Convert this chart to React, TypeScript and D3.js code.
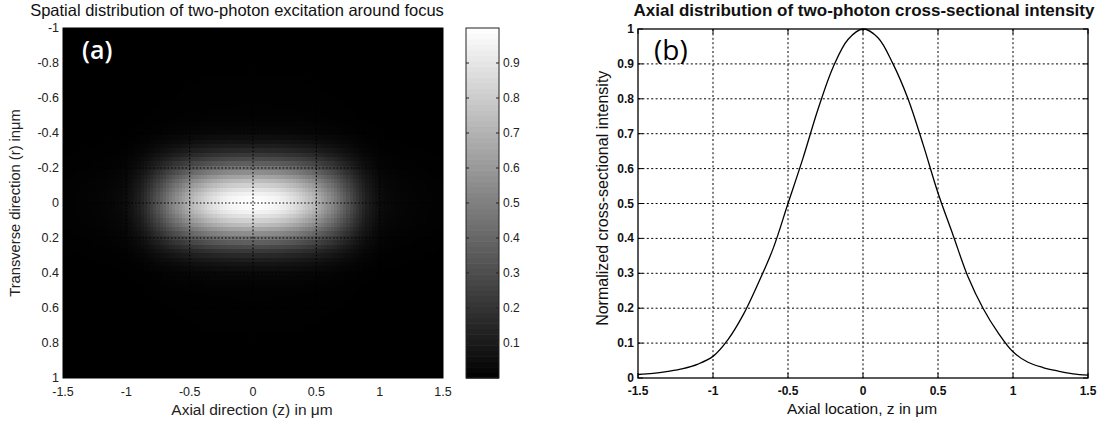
import React from 'react';
import * as d3 from 'd3';

// ---------- Data ----------
// (a) heat map, axial profile |z| = 0, 0.025, ..., 1.5 µm (symmetric about z = 0)
const heatAxialHalf = [
  1.0, 0.999, 0.998, 0.995, 0.99,
  0.985, 0.978, 0.97, 0.96,
  0.948, 0.935, 0.918, 0.90,
  0.88, 0.86, 0.835, 0.81,
  0.785, 0.76, 0.73, 0.70,
  0.665, 0.63, 0.595, 0.56,
  0.525, 0.49, 0.45, 0.41,
  0.37, 0.33, 0.29, 0.25,
  0.215, 0.18, 0.15, 0.12,
  0.10, 0.08, 0.064, 0.05,
  0.042, 0.035, 0.031, 0.028,
  0.025, 0.023, 0.021, 0.019,
  0.0175, 0.016, 0.015, 0.014,
  0.013, 0.012, 0.011, 0.010,
  0.0095, 0.009, 0.0085, 0.008,
];
// transverse profile |r| = 0, 0.025, ..., 1 µm (symmetric about r = 0)
const heatTransverseHalf = [
  1.0, 0.985, 0.95, 0.89, 0.82,
  0.74, 0.65, 0.555, 0.46,
  0.37, 0.29, 0.22, 0.16,
  0.115, 0.08, 0.055, 0.037,
  0.025, 0.017, 0.012, 0.009,
  0.007, 0.006, 0.005, 0.004,
  0.0035, 0.003, 0.003, 0.0025,
  0.0025, 0.002, 0.002, 0.002,
  0.0015, 0.0015, 0.0015, 0.001,
  0.001, 0.001, 0.001, 0.001,
];
const heatXTicks = [-1.5, -1, -0.5, 0, 0.5, 1, 1.5];
const heatXLabels = ['-1.5', '-1', '-0.5', '0', '0.5', '1', '1.5'];
const heatYTicks = [-1, -0.8, -0.6, -0.4, -0.2, 0, 0.2, 0.4, 0.6, 0.8, 1];
const heatYLabels = ['-1', '-0.8', '-0.6', '-0.4', '-0.2', '0', '0.2', '0.4', '0.6', '0.8', '1'];
const colorbarTicks = [0.1, 0.2, 0.3, 0.4, 0.5, 0.6, 0.7, 0.8, 0.9];
const colorbarLabels = ['0.1', '0.2', '0.3', '0.4', '0.5', '0.6', '0.7', '0.8', '0.9'];

// (b) axial profile, every 0.1 µm from -1.5 to 1.5
const profileZ = d3.range(-15, 16).map((i) => i / 10);
const profileI = [
  0.010, 0.013, 0.019, 0.027, 0.040, 0.062, 0.11, 0.18, 0.27, 0.37,
  0.50, 0.63, 0.77, 0.89, 0.97, 1.0, 0.975, 0.90, 0.80, 0.67,
  0.53, 0.41, 0.29, 0.20, 0.13, 0.075, 0.045, 0.030, 0.020, 0.012, 0.008,
];
const profileXTicks = [-1.5, -1, -0.5, 0, 0.5, 1, 1.5];
const profileXLabels = ['-1.5', '-1', '-0.5', '0', '0.5', '1', '1.5'];
const profileYTicks = [0, 0.1, 0.2, 0.3, 0.4, 0.5, 0.6, 0.7, 0.8, 0.9, 1];
const profileYLabels = ['0', '0.1', '0.2', '0.3', '0.4', '0.5', '0.6', '0.7', '0.8', '0.9', '1'];

const FONT = '"Liberation Sans", Arial, Helvetica, sans-serif';

const STEP = 0.025;
const heatAxial = [...heatAxialHalf.slice(1).reverse(), ...heatAxialHalf];
const heatZ = heatAxial.map((_, i) => (i - (heatAxialHalf.length - 1)) * STEP);
const heatTransverse = [...heatTransverseHalf.slice(1).reverse(), ...heatTransverseHalf];
const heatR = heatTransverse.map((_, i) => (i - (heatTransverseHalf.length - 1)) * STEP);

export default function App() {
  // ---------- Panel (a) ----------
  const hx = d3.scaleLinear().domain([-1.5, 1.5]).range([63, 443]);
  const hy = d3.scaleLinear().domain([-1, 1]).range([28, 378]);
  const gray = d3.scaleLinear<string>().domain([0, 1]).range(['#000000', '#ffffff']).clamp(true);
  const cellW = hx(STEP) - hx(0);
  const cellH = hy(STEP) - hy(0);

  const cells: JSX.Element[] = [];
  heatZ.forEach((z, i) => {
    heatR.forEach((r, j) => {
      const v = heatAxial[i] * heatTransverse[j];
      if (v < 0.002) return;
      cells.push(
        <rect
          key={`${i}-${j}`}
          x={hx(z) - cellW / 2}
          y={hy(r) - cellH / 2}
          width={cellW + 0.5}
          height={cellH + 0.5}
          fill={gray(v)}
        />
      );
    });
  });

  // colorbar
  const cbX0 = 466;
  const cbX1 = 499;
  const cy = d3.scaleLinear().domain([0, 1]).range([378, 28]);
  const cbSteps = d3.range(64);

  // ---------- Panel (b) ----------
  const px = d3.scaleLinear().domain([-1.5, 1.5]).range([638, 1088]);
  const py = d3.scaleLinear().domain([0, 1]).range([378, 29]);
  const line = d3
    .line<number>()
    .x((_, i) => px(profileZ[i]))
    .y((d) => py(d))
    .curve(d3.curveCatmullRom);

  return (
    <svg
      width={1099}
      height={427}
      style={{ position: 'absolute', left: 0, top: 0, background: '#fff' }}
      fontFamily={FONT}
    >
      <defs>
        <clipPath id="clipHeat">
          <rect x={63} y={28} width={380} height={350} />
        </clipPath>
      </defs>
      <rect x={0} y={0} width={1099} height={427} fill="#fff" />

      {/* ---------- Panel (a) ---------- */}
      <text x={237} y={16} textAnchor="middle" fontSize={16.5} fill="#111">
        Spatial distribution of two-photon excitation around focus
      </text>
      <rect x={63} y={28} width={380} height={350} fill="#000" />
      <g clipPath="url(#clipHeat)" shapeRendering="crispEdges">{cells}</g>
      {/* dotted grid */}
      <g stroke="#000" strokeWidth={1.1} strokeDasharray="1.6,2">
        {heatXTicks.slice(1, -1).map((t) => (
          <line key={`gx${t}`} x1={hx(t)} x2={hx(t)} y1={28} y2={378} />
        ))}
        {heatYTicks.slice(1, -1).map((t) => (
          <line key={`gy${t}`} x1={63} x2={443} y1={hy(t)} y2={hy(t)} />
        ))}
      </g>
      <rect x={63} y={28} width={380} height={350} fill="none" stroke="#000" />
      <g fontSize={12.5} fill="#222">
        {heatXTicks.map((t, i) => (
          <text key={`hxl${t}`} x={hx(t)} y={396} textAnchor="middle">
            {heatXLabels[i]}
          </text>
        ))}
        {heatYTicks.map((t, i) => (
          <text key={`hyl${t}`} x={59} y={hy(t) + 4} textAnchor="end">
            {heatYLabels[i]}
          </text>
        ))}
      </g>
      <text x={252} y={415} textAnchor="middle" fontSize={15.5} fill="#222">
        Axial direction (z) in μm
      </text>
      <text
        transform={`translate(20,${hy(0)}) rotate(-90)`}
        textAnchor="middle"
        fontSize={14.7}
        fill="#222"
      >
        Transverse direction (r) inμm
      </text>
      <text
        x={82}
        y={59}
        fontFamily='"Open Sans", sans-serif'
        fontWeight={600}
        fontSize={25}
        fill="#fff"
      >
        (a)
      </text>

      {/* colorbar */}
      {cbSteps.map((k) => (
        <rect
          key={`cb${k}`}
          x={cbX0}
          y={cy((k + 1) / 64)}
          width={cbX1 - cbX0}
          height={cy(k / 64) - cy((k + 1) / 64) + 0.6}
          fill={gray((k + 0.5) / 64)}
        />
      ))}
      <rect x={cbX0} y={28} width={cbX1 - cbX0} height={350} fill="none" stroke="#222" />
      <g stroke="#222">
        {colorbarTicks.map((t) => (
          <g key={`cbt${t}`}>
            <line x1={cbX0} x2={cbX0 + 3} y1={cy(t)} y2={cy(t)} />
            <line x1={cbX1 - 3} x2={cbX1} y1={cy(t)} y2={cy(t)} />
          </g>
        ))}
      </g>
      <g fontSize={12} fill="#222">
        {colorbarTicks.map((t, i) => (
          <text key={`cbl${t}`} x={cbX1 + 4} y={cy(t) + 4}>
            {colorbarLabels[i]}
          </text>
        ))}
      </g>

      {/* ---------- Panel (b) ---------- */}
      <text x={864} y={16} textAnchor="middle" fontSize={17} fontWeight="bold" fill="#111">
        Axial distribution of two-photon cross-sectional intensity
      </text>
      <g stroke="#000" strokeWidth={1} strokeDasharray="2,2.4">
        {profileXTicks.slice(1, -1).map((t) => (
          <line key={`pgx${t}`} x1={px(t)} x2={px(t)} y1={29} y2={378} />
        ))}
        {profileYTicks.slice(1, -1).map((t) => (
          <line key={`pgy${t}`} x1={638} x2={1088} y1={py(t)} y2={py(t)} />
        ))}
      </g>
      <g stroke="#000" strokeWidth={1}>
        {profileXTicks.map((t) => (
          <g key={`ptx${t}`}>
            <line x1={px(t)} x2={px(t)} y1={378} y2={373} />
            <line x1={px(t)} x2={px(t)} y1={29} y2={34} />
          </g>
        ))}
        {profileYTicks.map((t) => (
          <g key={`pty${t}`}>
            <line x1={638} x2={643} y1={py(t)} y2={py(t)} />
            <line x1={1083} x2={1088} y1={py(t)} y2={py(t)} />
          </g>
        ))}
      </g>
      <path d={line(profileI) ?? ''} fill="none" stroke="#000" strokeWidth={1.3} />
      <rect x={638} y={29} width={450} height={349} fill="none" stroke="#000" strokeWidth={1.3} />
      <g fontSize={12} fontWeight="bold" fill="#111">
        {profileXTicks.map((t, i) => (
          <text key={`pxl${t}`} x={px(t)} y={395} textAnchor="middle">
            {profileXLabels[i]}
          </text>
        ))}
        {profileYTicks.map((t, i) => (
          <text key={`pyl${t}`} x={634} y={py(t) + 4} textAnchor="end">
            {profileYLabels[i]}
          </text>
        ))}
      </g>
      <text x={862} y={414} textAnchor="middle" fontSize={15.5} fill="#111">
        Axial location, z in μm
      </text>
      <text
        transform={`translate(608,${py(0.515)}) rotate(-90)`}
        textAnchor="middle"
        fontSize={16}
        fill="#111"
      >
        Normalized cross-sectional intensity
      </text>
      <text
        x={654}
        y={60}
        fontFamily='"Open Sans", sans-serif'
        fontWeight={500}
        fontSize={28}
        fill="#000"
      >
        (b)
      </text>
    </svg>
  );
}
